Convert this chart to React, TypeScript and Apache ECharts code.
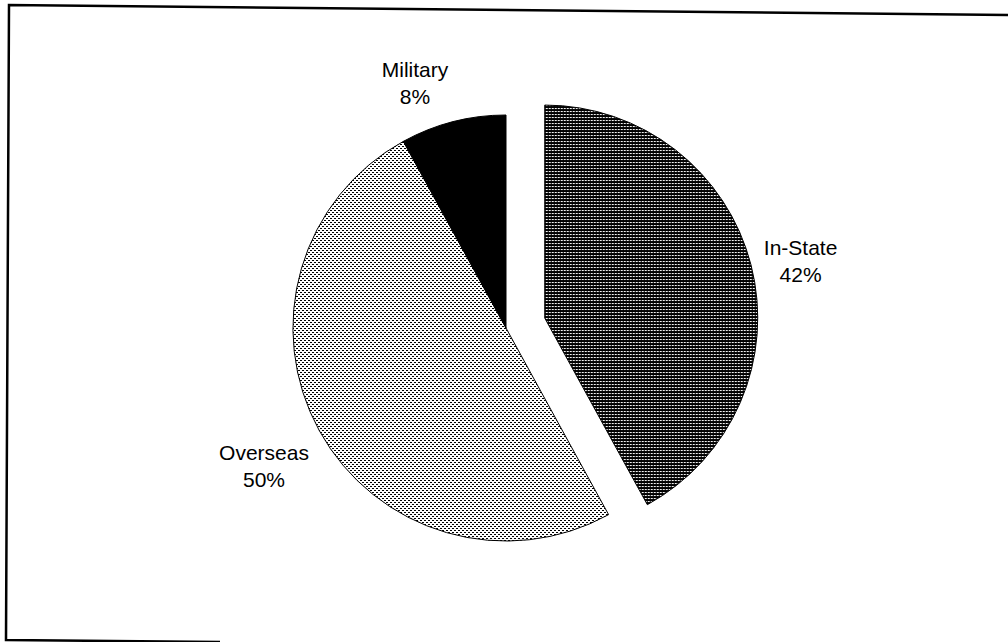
import React, { useEffect, useRef } from "react";
import * as echarts from "echarts";

const categories = ["In-State", "Overseas", "Military"];
const percents = [42, 50, 8];
const labelCenters = [
  [798, 261],
  [264, 466],
  [415, 83],
];

function makePattern(w: number, h: number, bg: string, fg: string, pts: number[][]) {
  const c = document.createElement("canvas");
  c.width = w;
  c.height = h;
  const ctx = c.getContext("2d")!;
  ctx.fillStyle = bg;
  ctx.fillRect(0, 0, w, h);
  ctx.fillStyle = fg;
  pts.forEach(([x, y]) => ctx.fillRect(x, y, 1, 1));
  return c;
}

export default function App() {
  const ref = useRef<HTMLDivElement>(null);
  useEffect(() => {
    if (!ref.current) return;
    const chart = echarts.init(ref.current, undefined, { renderer: "svg" });
    const darkPat = makePattern(3, 3, "#000", "#fff", [[0, 1], [1, 1]]);
    const lightPat = makePattern(4, 4, "#fff", "#000", [[0, 0], [1, 0], [2, 2], [3, 2]]);
    const fills: any[] = [
      { image: darkPat, repeat: "repeat" },
      { image: lightPat, repeat: "repeat" },
      "#000000",
    ];
    chart.setOption({
      animation: false,
      backgroundColor: "#ffffff",
      graphic: [
        {
          type: "polyline",
          shape: { points: [[1008, 15], [9, 5], [6, 640], [220, 642]] },
          style: { stroke: "#000", lineWidth: 2.5, fill: "none" },
          silent: true,
        },
      ],
      series: [
        {
          type: "pie",
          center: [506, 328],
          radius: 213,
          startAngle: 90,
          clockwise: true,
          selectedMode: "single",
          selectedOffset: 40,
          avoidLabelOverlap: false,
          itemStyle: { borderColor: "#000", borderWidth: 1 },
          emphasis: { disabled: true },
          label: {
            show: true,
            position: "outside",
            formatter: (p: any) => `${p.name}\n${p.value}%`,
            fontFamily: "Liberation Sans",
            fontSize: 21,
            lineHeight: 27,
            color: "#000",
            align: "center",
          },
          labelLine: { show: false },
          labelLayout: (params: any) => {
            const c = labelCenters[params.dataIndex];
            return { x: c[0], y: c[1], align: "center", verticalAlign: "middle" };
          },
          data: categories.map((name, i) => ({
            name,
            value: percents[i],
            selected: i === 0,
            itemStyle: { color: fills[i] },
          })),
        },
      ],
    });
    return () => chart.dispose();
  }, []);
  return (
    <div
      ref={ref}
      style={{ position: "fixed", left: 0, top: 0, width: 1008, height: 642 }}
    />
  );
}
